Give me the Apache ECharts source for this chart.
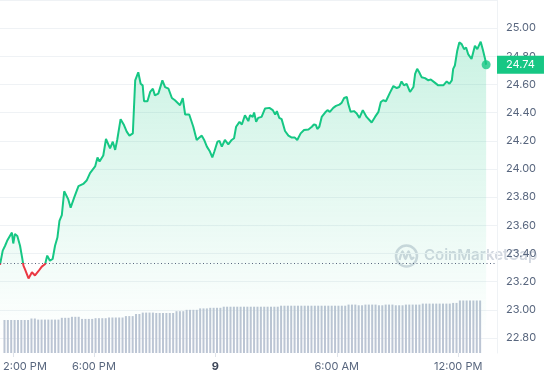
<!DOCTYPE html>
<html><head><meta charset="utf-8">
<script src="https://cdn.jsdelivr.net/npm/echarts@6/dist/echarts.min.js"></script>
<style>html,body{margin:0;padding:0;background:#fff}#c{width:545px;height:380px}</style>
</head><body><div id="c"></div>
<script>
// time in minutes relative to midnight of the 9th
const priceTimes = [
-628,-620,-613,-607,-593,-589,-584,-577,-569,-563,
-559,-554,-544,-534,-525,-515,-505,-495,-489,-481,
-473,-466,-459,-453,-446,-439,-434,-427,-420,-410,
-397,-383,-373,-363,-348,-341,-335,-324,-316,-304,
-296,-289,-283,-273,-263,-255,-247,-237,-230,-221,
-214,-208,-204,-194,-186,-178,-172,-162,-150,-142,
-132,-122,-113,-98,-90,-83,-71,-59,-49,-41,
-34,-27,-19,-10,-3,3,12,18,25,34,
44,54,61,67,77,84,93,103,108,116,
120,126,132,142,152,165,175,182,187,194,
201,211,221,231,240,247,257,267,280,290,
296,302,306,312,319,329,336,343,353,361,
371,378,385,393,397,404,414,422,430,440,
451,466,476,486,493,500,508,520,530,540,
547,554,561,569,579,589,594,600,606,613,
623,633,640,650,662,677,687,695,702,706,
711,718,724,731,738,744,750,760,770,777,
787,793,800,803];
const prices = [
23.320,23.420,23.455,23.490,23.549,23.471,23.539,23.525,23.455,23.373,
23.314,23.286,23.223,23.267,23.244,23.274,23.307,23.326,23.385,23.349,
23.361,23.455,23.513,23.631,23.673,23.842,23.854,23.784,23.725,23.795,
23.878,23.894,23.918,23.971,24.018,24.082,24.053,24.096,24.213,24.147,
24.194,24.136,24.206,24.354,24.312,24.265,24.237,24.253,24.629,24.687,
24.605,24.594,24.481,24.481,24.547,24.570,24.523,24.535,24.629,24.582,
24.570,24.504,24.488,24.453,24.504,24.387,24.387,24.300,24.206,24.223,
24.237,24.206,24.159,24.124,24.082,24.124,24.194,24.199,24.159,24.206,
24.175,24.206,24.218,24.300,24.335,24.316,24.382,24.340,24.382,24.370,
24.401,24.335,24.363,24.370,24.429,24.434,24.418,24.387,24.411,24.363,
24.354,24.270,24.237,24.223,24.223,24.206,24.253,24.277,24.281,24.300,
24.316,24.312,24.284,24.300,24.370,24.401,24.418,24.406,24.434,24.448,
24.457,24.471,24.504,24.511,24.464,24.406,24.411,24.394,24.363,24.418,
24.370,24.330,24.370,24.406,24.476,24.488,24.481,24.542,24.589,24.575,
24.582,24.622,24.594,24.605,24.547,24.582,24.675,24.711,24.687,24.652,
24.645,24.629,24.636,24.617,24.594,24.594,24.622,24.605,24.629,24.711,
24.735,24.840,24.899,24.887,24.851,24.863,24.816,24.781,24.875,24.851,
24.904,24.851,24.781,24.740];
const openPrice = 23.33;
const volStart = -625;   // minutes
const volStep = 10;      // minutes per bar
const volumes = [
33,33,33,33,33,33,33,33,34.5,34.5,
33.4,33.4,33.4,33.4,33.4,33.4,33.4,35.2,35.2,35.2,
36.2,36.2,36.2,34.1,34.1,34.1,34.1,34.8,34.8,34.8,
34.8,35.5,35.5,35.5,35.5,35.5,36.9,36.9,36.9,39,
39,40.4,40.4,40.4,40.4,40,40,40,40,40,
40,41.8,41.8,41.8,43.2,43.2,43.2,43.2,44.6,44.6,
44.6,45.2,45.2,45.2,45.2,46.3,46.3,46.3,46.3,46.3,
46.3,46.3,46.3,46.3,46.3,46.3,46.3,46.3,46.3,46.3,
46.3,46.3,47.3,47.3,47.3,47.3,47.3,47.3,47.3,47.3,
47.3,47.3,47.3,47.3,47.3,47.3,47.3,47.3,47.3,47.3,
47.3,47.3,48.4,48.4,48.4,47.7,47.7,48.4,48.4,48.4,
48.4,47.7,47.7,48.4,48.4,48.4,47.7,47.7,47.7,48.4,
48.4,48.4,48.4,48.4,49.4,49.4,49.4,49.4,49.4,49.4,
49.4,49.4,49.4,50.1,50.1,52.5,52.5,52.5,52.5,52.5,
52.5,52.5];
const xTickValues = [-600, -360, 0, 360, 720];
const xTickLabels = ['2:00 PM', '6:00 PM', '9', '6:00 AM', '12:00 PM'];
const xMin = -628, xMax = 835;
const yMin = 22.8, yMax = 25.2, yStep = 0.2;

const GREEN = '#16c784', RED = '#ea3943', GREY = '#58667e', GRID = '#eff2f5';
const lastPrice = prices[prices.length - 1];
const lastTime = priceTimes[priceTimes.length - 1];

const chart = echarts.init(document.getElementById('c'), null, {renderer: 'canvas'});
const font = 'Inter';
chart.setOption({
  animation: false,
  textStyle: {fontFamily: font},
  grid: [
    {left: 0, right: 48, top: -2.9, height: 340.9},
    {left: 0, right: 48, top: 253, height: 100}
  ],
  xAxis: [
    {gridIndex: 0, type: 'value', min: xMin, max: xMax, show: false},
    {gridIndex: 1, type: 'value', min: xMin, max: xMax,
      axisLine: {show: false, onZero: false}, splitLine: {show: false},
      axisTick: {show: true, customValues: xTickValues, length: 4, lineStyle: {color: '#dfe3ea'}},
      axisLabel: {
        customValues: xTickValues, margin: 8, color: GREY, fontSize: 11, fontFamily: font,
        formatter: function (v) {
          const i = xTickValues.indexOf(v);
          const s = i >= 0 ? xTickLabels[i] : '';
          if (i === 0) return '{f|' + s + '}';
          if (s === '9') return '{b|' + s + '}';
          return s;
        },
        rich: {
          f: {padding: [0, 0, 0, 24], color: GREY, fontSize: 11, fontFamily: font},
          b: {fontWeight: 'bold', color: '#3a4356', fontSize: 11, fontFamily: font}
        }
      }
    }
  ],
  yAxis: [
    {gridIndex: 0, type: 'value', position: 'right', min: yMin, max: yMax, interval: yStep,
      axisLine: {show: true, onZero: false, lineStyle: {color: GRID}}, axisTick: {show: false},
      splitLine: {show: true, lineStyle: {color: GRID}},
      axisLabel: {margin: 9, color: GREY, fontSize: 11, fontFamily: font, showMaxLabel: false,
        formatter: v => v.toFixed(2)}
    },
    {gridIndex: 1, type: 'value', position: 'right', min: 0, max: 100,
      axisLine: {show: true, onZero: false, lineStyle: {color: GRID}}, axisTick: {show: false},
      splitLine: {show: false}, axisLabel: {show: false}
    }
  ],
  graphic: [
    {type: 'circle', z: 0, silent: true, shape: {cx: 406.5, cy: 256, r: 10.5},
      style: {fill: 'none', stroke: '#d3d8e0', lineWidth: 2.5}},
    {type: 'polyline', z: 0, silent: true,
      shape: {points: [[399.5, 260], [402.5, 251.5], [405.5, 259], [408.5, 251.5], [411.5, 259], [414, 257]], smooth: 0.3},
      style: {fill: 'none', stroke: '#d3d8e0', lineWidth: 2.3}},
    {type: 'text', z: 0, silent: true,
      style: {x: 424, y: 255, text: 'CoinMarketCap', font: '600 15px Inter', fill: '#d3d8e0',
        verticalAlign: 'middle', textVerticalAlign: 'middle'}}
  ],
  series: [
    {
      id: 'price', type: 'line', xAxisIndex: 0, yAxisIndex: 0, z: 3,
      data: priceTimes.map((t, i) => [t, prices[i]]),
      showSymbol: false, symbol: 'none',
      lineStyle: {width: 2, color: GREEN},
      areaStyle: {color: {type: 'linear', x: 0, y: 0, x2: 0, y2: 1,
        colorStops: [{offset: 0, color: 'rgba(22,199,132,0.32)'}, {offset: 1, color: 'rgba(22,199,132,0)'}]}},
      markLine: {
        silent: true, symbol: ['none', 'none'], animation: false,
        data: [
          {yAxis: openPrice, lineStyle: {type: [1, 2.5], color: GREY, width: 1}, label: {show: false}},
          {yAxis: lastPrice, lineStyle: {color: 'rgba(0,0,0,0)', width: 1}, label: {
            show: true, position: 'end', distance: 0, formatter: lastPrice.toFixed(2),
            backgroundColor: GREEN, color: '#fff', padding: [3, 9, 3, 9], fontSize: 11,
            lineHeight: 12, fontFamily: font}}
        ]
      }
    },
    {
      type: 'scatter', xAxisIndex: 0, yAxisIndex: 0, z: 4,
      data: [[lastTime, lastPrice]], symbolSize: 9, itemStyle: {color: GREEN}
    },
    {
      type: 'bar', xAxisIndex: 1, yAxisIndex: 1, barWidth: 2,
      data: volumes.map((v, i) => [volStart + i * volStep, v]),
      itemStyle: {color: '#bcc5d4'}
    }
  ]
});

// colour the line red below the opening price, green above (split at the axis position of openPrice)
const yOpen = chart.convertToPixel({yAxisIndex: 0}, openPrice);
const H = chart.getHeight();
const f = Math.min(1, Math.max(0, yOpen / H));
chart.setOption({series: [{id: 'price', lineStyle: {color: {
  type: 'linear', x: 0, y: 0, x2: 0, y2: H, global: true,
  colorStops: [{offset: 0, color: GREEN}, {offset: f, color: GREEN}, {offset: f, color: RED}, {offset: 1, color: RED}]
}}}]});
</script>
</body></html>
